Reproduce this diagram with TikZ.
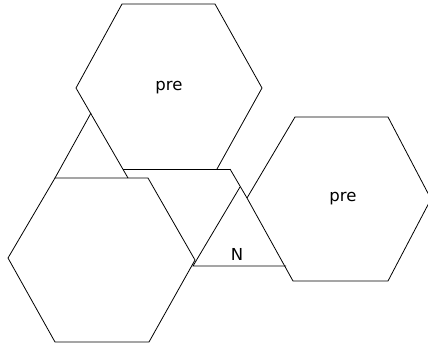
\documentclass[tikz,border=0pt]{standalone}
\usepackage{fontspec}
\setmainfont{DejaVu Sans}
\begin{document}
\begin{tikzpicture}[x=1pt,y=-1pt,
  edge/.style={draw=black,line width=0.8pt,line join=miter},
  lbl/.style={font=\fontsize{16.5}{18}\selectfont,inner sep=0pt}]
\useasboundingbox (0,0) rectangle (428,346);
\begin{scope}
\clip (0,0) rectangle (428,346);
% top hexagon
\coordinate (tL) at (76,88);
\coordinate (tTL) at (122,4);
\coordinate (tTR) at (215,4);
\coordinate (tR) at (262,88);
\coordinate (tRend) at (217,169);
\coordinate (tLend) at (128,178);
\draw[edge] (tLend) -- (tL) -- (tTL) -- (tTR) -- (tR) -- (tRend);
% left triangle side
\coordinate (ltTop) at (91,113);
% bottom-left hexagon
\coordinate (bTL) at (55,178);
\coordinate (bTR) at (148,178);
\coordinate (bR) at (195,260);
\coordinate (bBR) at (149,342);
\coordinate (bBL) at (55,342);
\coordinate (bL) at (8,258);
\draw[edge] (ltTop) -- (bTL);
\draw[edge] (bTL) -- (bTR) -- (bR) -- (bBR) -- (bBL) -- (bL) -- cycle;
% middle shape
\coordinate (mTL) at (123,169);
\coordinate (mTR) at (230,169);
\draw[edge] (mTL) -- (mTR);
% right hexagon
\coordinate (rL) at (247,198);
\coordinate (rTL) at (295,117);
\coordinate (rTR) at (388,117);
\coordinate (rR) at (431,199);
\coordinate (rBR) at (388,281);
\coordinate (rBL) at (293,281);
\draw[edge] (mTR) -- (rL) -- (rTL) -- (rTR) -- (rR) -- (rBR) -- (rBL) -- (rL);
% N triangle
\coordinate (nTop) at (240,187);
\coordinate (nBL) at (193,266);
\coordinate (nBR) at (286,266);
\draw[edge] (nTop) -- (nBL) -- (nBR);
\end{scope}
\node[lbl] (preTop) at (169,88) {pre};
\node[lbl] (preRight) at (343,199) {pre};
\node[lbl] (N) at (237,254) {N};
\end{tikzpicture}
\end{document}
